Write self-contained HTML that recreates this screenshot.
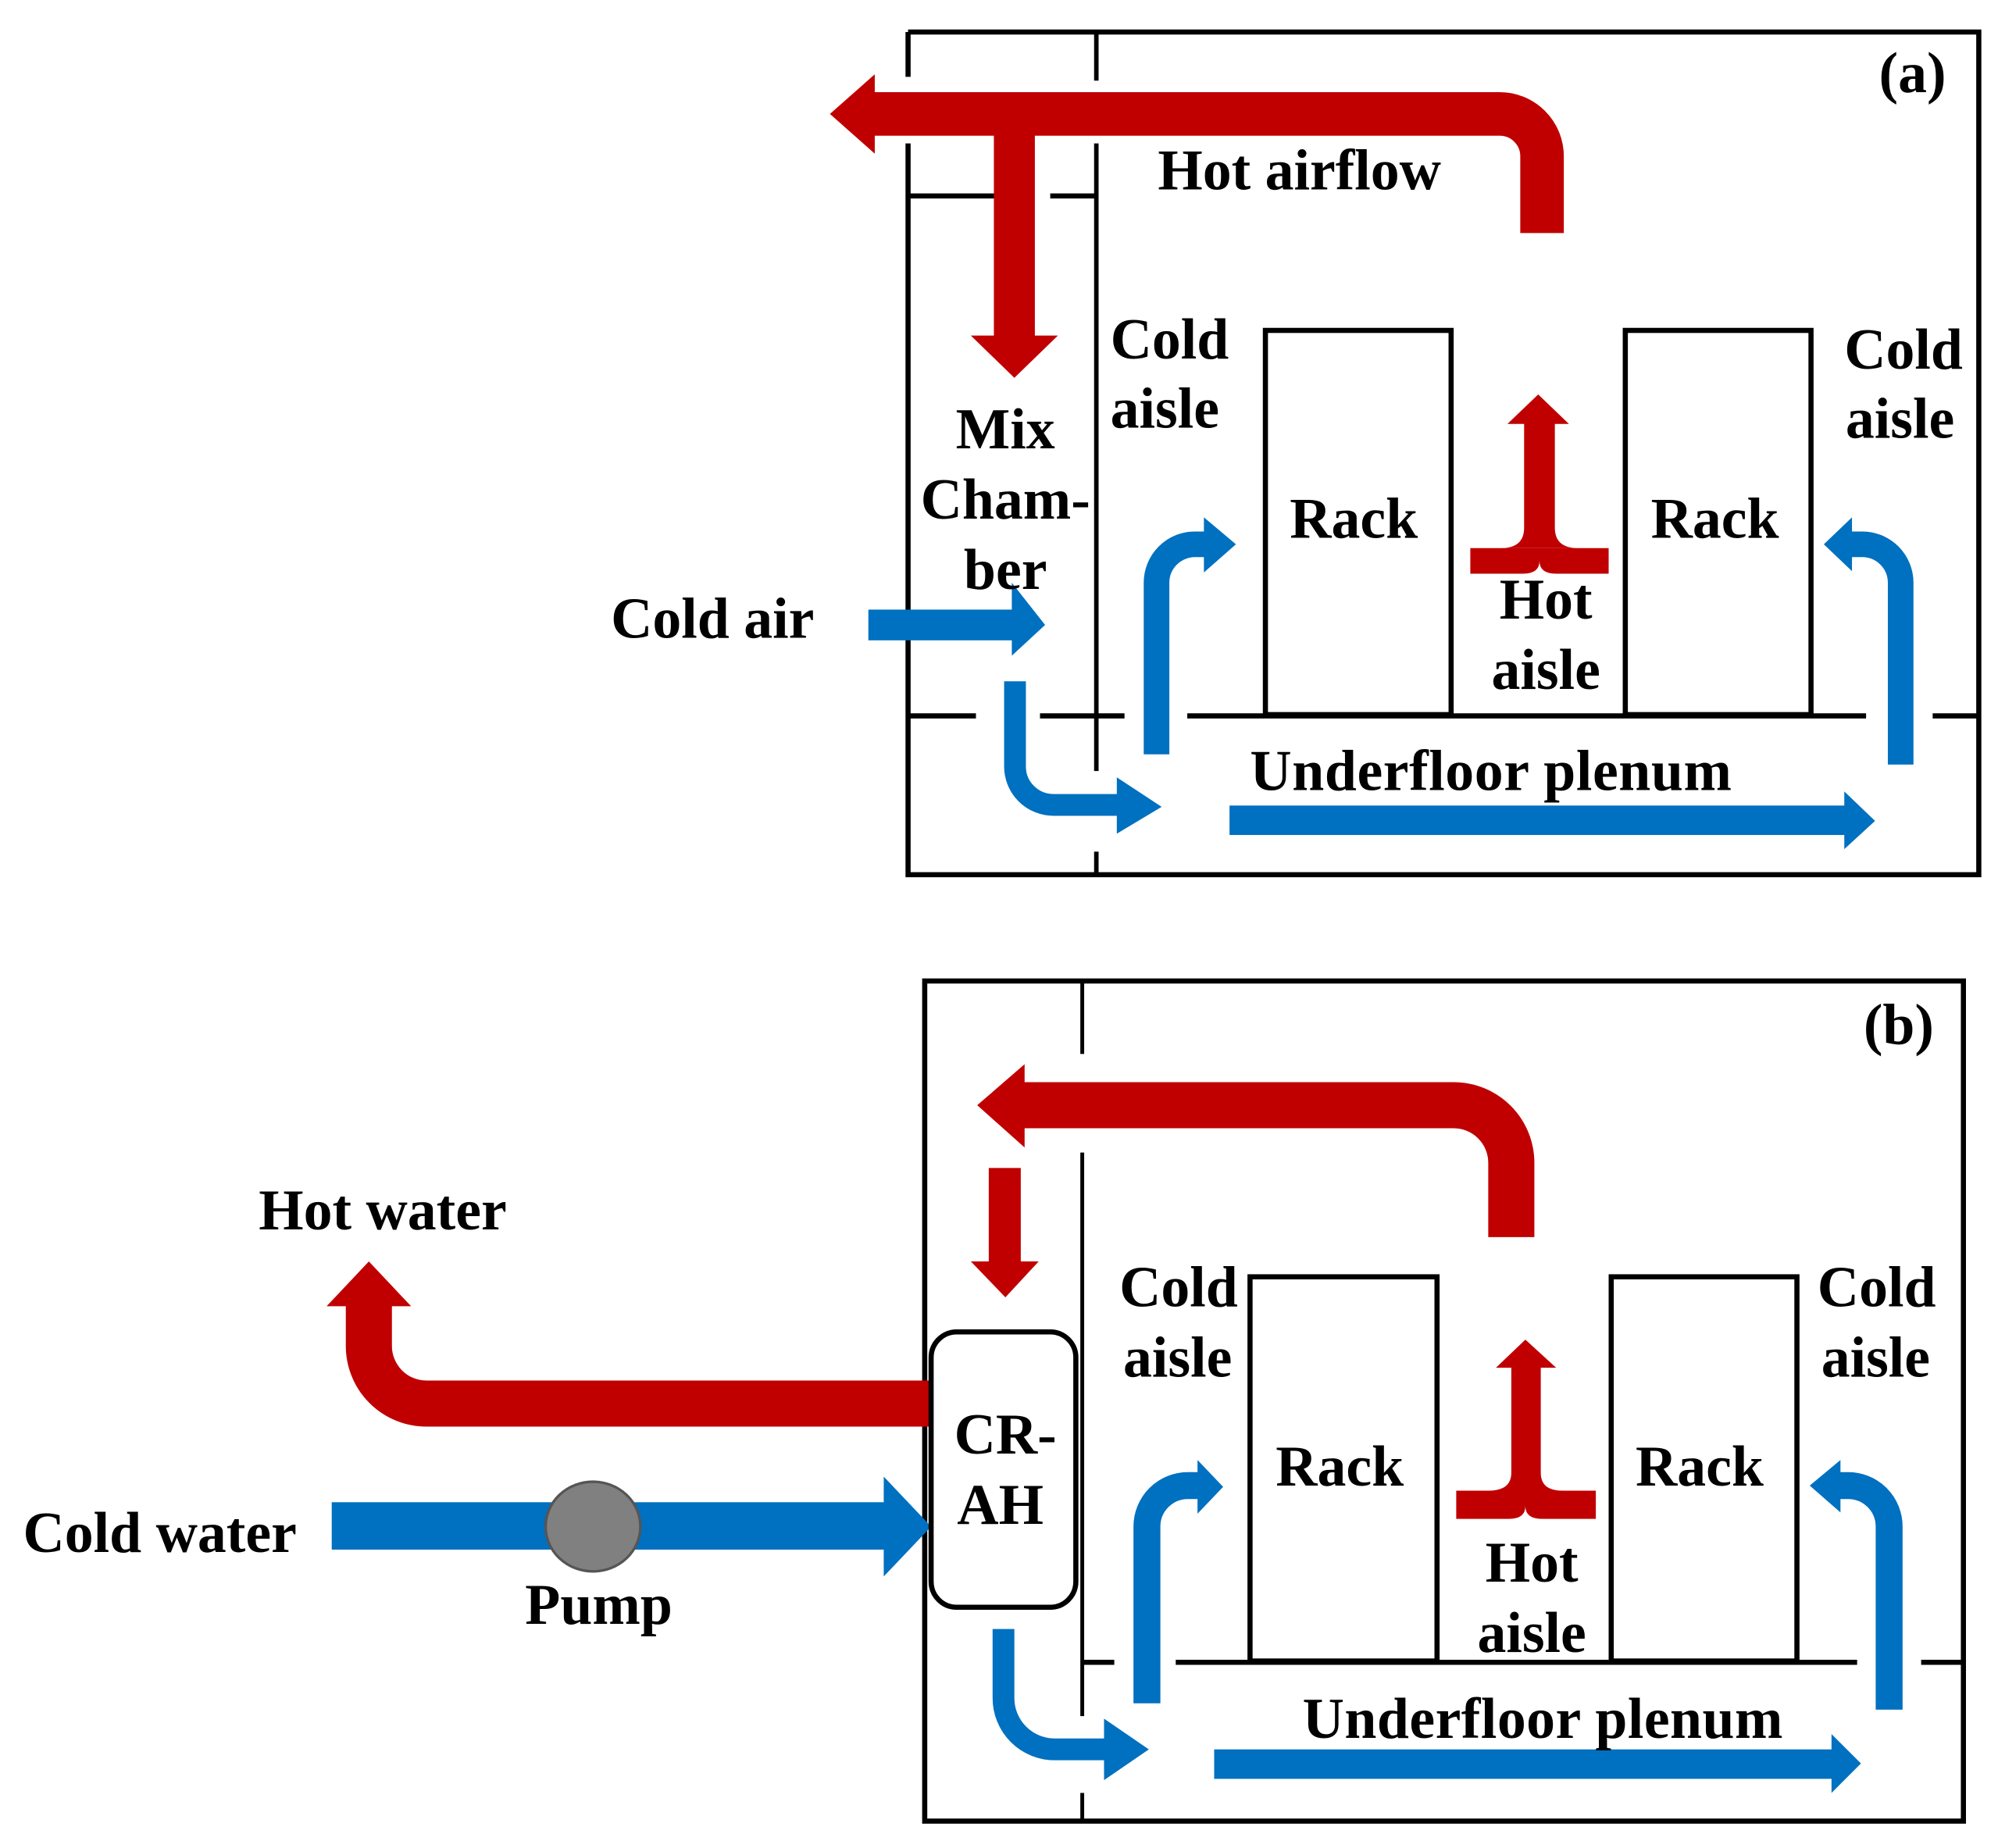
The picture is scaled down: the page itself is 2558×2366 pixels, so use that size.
<!DOCTYPE html>
<html><head><meta charset="utf-8"><style>html,body{margin:0;padding:0;background:#fff}svg{display:block}text{font-family:"Liberation Serif",serif;font-weight:bold;font-size:45px;fill:#000}</style></head>
<body>
<svg width="2558" height="2366" viewBox="0 0 1560 1443" preserveAspectRatio="none" xmlns="http://www.w3.org/2000/svg">
<rect width="1560" height="1443" fill="#fff"/>
<g stroke="#000" stroke-width="4" fill="none">
<path d="M709,25 H1545 V683 H709 V112 M709,25 V60"/>
<path d="M856,25 V63 M856,112 V602 M856,665 V683" stroke-width="3.5"/>
<path d="M709,153 H790 M820,153 H856"/>
<path d="M709,559 H762 M812,559 H878 M927,559 H1457 M1509,559 H1545"/>
<rect x="988" y="258" width="145" height="300"/>
<rect x="1269" y="258" width="145" height="300"/>
<rect x="722" y="766" width="811" height="656"/>
<path d="M845,766 V823 M845,900 V1340 M845,1400 V1422" stroke-width="3"/>
<path d="M845,1298 H870 M918,1298 H1450 M1500,1298 H1533"/>
<rect x="976" y="997" width="146" height="300"/>
<rect x="1258" y="997" width="145" height="300"/>
</g>
<!-- red (a) -->
<g fill="#C00000">
<path d="M1204,182 V122 A33,33 0 0 0 1171,89 H682" stroke="#C00000" stroke-width="34" fill="none"/>
<polygon points="683,58 683,120 648,89"/>
<rect x="776" y="89" width="32" height="174"/>
<polygon points="758,262 826,262 792,295"/>
<path d="M1148,428 H1256 V448 H1215 Q1202,448 1202,438 Q1202,448 1189,448 H1148Z"/>
<path d="M1190,330 V412 Q1190,428 1172,428 H1232 Q1214,428 1214,412 V330Z"/>
<polygon points="1177,331 1225,331 1201,308"/>
<!-- red (b) -->
<path d="M1180,966 V908 A45,45 0 0 0 1135,863 H798" stroke="#C00000" stroke-width="36" fill="none"/>
<polygon points="800,831 800,896 763,863"/>
<rect x="772" y="912" width="25" height="74"/>
<polygon points="758,985 811,985 785,1013"/>
<path d="M726,1096 H333 A45,45 0 0 1 288,1051 V1018" stroke="#C00000" stroke-width="36" fill="none"/>
<polygon points="255,1020 321,1020 288,985"/>
<path d="M1137,1164 H1246 V1186 H1204 Q1191,1186 1191,1176 Q1191,1186 1178,1186 H1137Z"/>
<path d="M1180,1066 V1150 Q1180,1164 1162,1164 H1220 Q1203,1164 1203,1150 V1066Z"/>
<polygon points="1168,1068 1215,1068 1191,1046"/>
</g>
<!-- blue -->
<g fill="#0070C0">
<rect x="678" y="476" width="113" height="24"/>
<polygon points="790,455 790,512 816,488"/>
<path d="M792.5,532 V598 A30,30 0 0 0 822.5,628.5 H875" stroke="#0070C0" stroke-width="17" fill="none"/>
<polygon points="872,607 872,651 907,630"/>
<path d="M903,589 V455 A30,30 0 0 1 933,425 H942" stroke="#0070C0" stroke-width="20" fill="none"/>
<polygon points="940,404 940,447 965,425"/>
<path d="M1484,597 V455 A30,30 0 0 0 1454,425 H1444" stroke="#0070C0" stroke-width="20" fill="none"/>
<polygon points="1446,404 1446,446 1424,425"/>
<rect x="960" y="629" width="482" height="23"/>
<polygon points="1440,618 1440,663 1464,641"/>
<rect x="259" y="1173" width="432" height="37"/>
<polygon points="690,1153 690,1231 727,1192"/>
<path d="M783.5,1272 V1326 A40,40 0 0 0 823.5,1366 H864" stroke="#0070C0" stroke-width="17" fill="none"/>
<polygon points="862,1342 862,1390 897,1366"/>
<path d="M895.5,1330 V1192 A32,32 0 0 1 927.5,1160 H937" stroke="#0070C0" stroke-width="21" fill="none"/>
<polygon points="935,1140 935,1182 955,1161"/>
<path d="M1475,1335 V1192 A32,32 0 0 0 1443,1160 H1435" stroke="#0070C0" stroke-width="21" fill="none"/>
<polygon points="1437,1140 1437,1181 1413,1160"/>
<rect x="948" y="1366" width="484" height="23"/>
<polygon points="1430,1354 1430,1400 1453,1377"/>
</g>
<ellipse cx="463" cy="1192" rx="37" ry="35" fill="#808080" stroke="#555" stroke-width="2"/>
<rect x="727" y="1040" width="113" height="215" rx="20" fill="#fff" stroke="#000" stroke-width="4"/>
<!-- text -->
<text x="1467" y="72" font-size="40">(a)</text>
<text x="904" y="148">Hot airflow</text>
<text x="867" y="280">Cold</text>
<text x="867" y="334">aisle</text>
<text x="1440" y="288">Cold</text>
<text x="1441" y="342">aisle</text>
<text x="785" y="350" text-anchor="middle">Mix</text>
<text x="785" y="405" text-anchor="middle">Cham-</text>
<text x="785" y="460" text-anchor="middle">ber</text>
<text x="477" y="498">Cold air</text>
<text x="1057" y="420" text-anchor="middle">Rack</text>
<text x="1339" y="420" text-anchor="middle">Rack</text>
<text x="1207" y="483" text-anchor="middle">Hot</text>
<text x="1207" y="538" text-anchor="middle">aisle</text>
<text x="976" y="617" textLength="376">Underfloor plenum</text>
<text x="1455" y="815" font-size="40">(b)</text>
<text x="202" y="960">Hot water</text>
<text x="18" y="1212">Cold water</text>
<text x="410" y="1268">Pump</text>
<text x="785" y="1135" text-anchor="middle">CR-</text>
<text x="781" y="1190" text-anchor="middle">AH</text>
<text x="874" y="1020">Cold</text>
<text x="877" y="1075">aisle</text>
<text x="1419" y="1020">Cold</text>
<text x="1422" y="1075">aisle</text>
<text x="1046" y="1160" text-anchor="middle">Rack</text>
<text x="1327" y="1160" text-anchor="middle">Rack</text>
<text x="1196" y="1235" text-anchor="middle">Hot</text>
<text x="1196" y="1290" text-anchor="middle">aisle</text>
<text x="1017" y="1357" textLength="375">Underfloor plenum</text>
</svg>
</body></html>
